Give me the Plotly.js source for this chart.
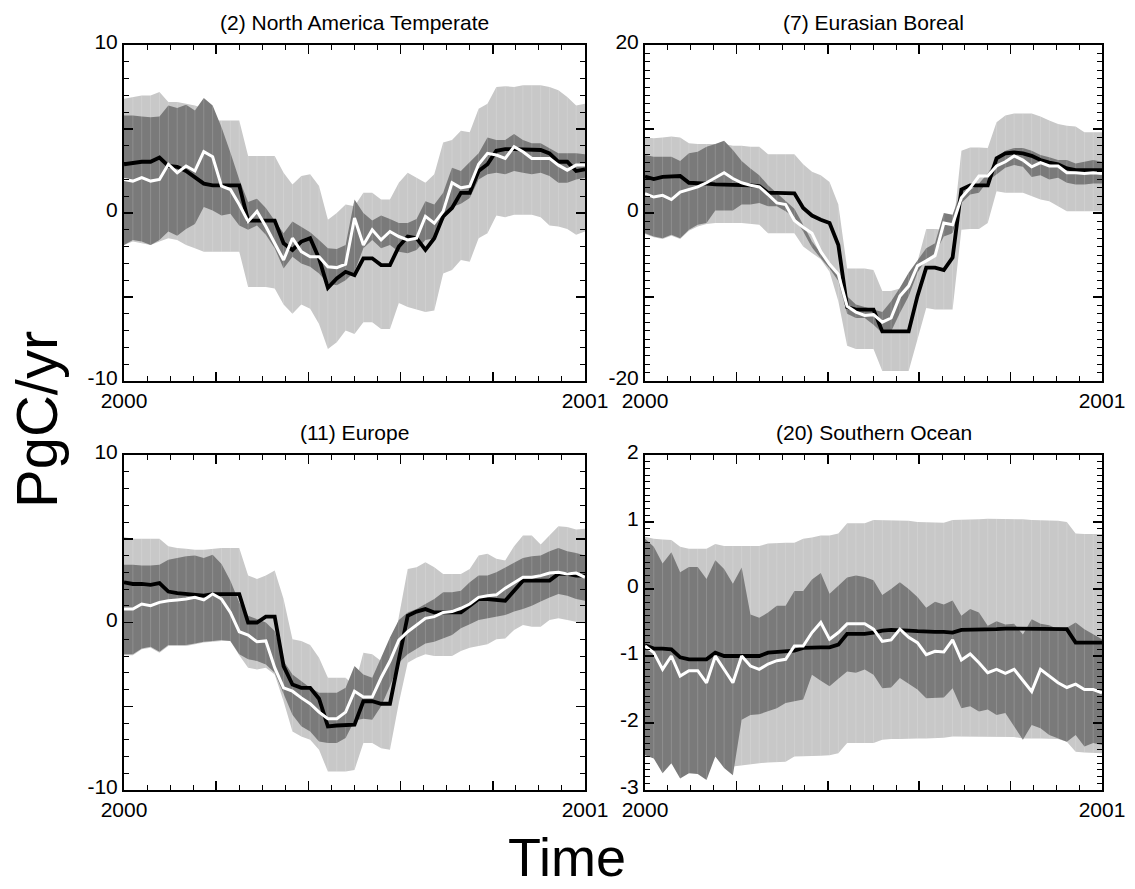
<!DOCTYPE html>
<html>
<head>
<meta charset="utf-8">
<script src="https://cdn.plot.ly/plotly-3.0.1.min.js"></script>
<style>html,body{margin:0;padding:0;background:#fff;}#chart{width:1135px;height:889px;}</style>
</head>
<body>
<div id="chart"></div>
<script>
// ---------- data (weekly values, 53 points over the year 2000) ----------
const titles = ["(2) North America Temperate", "(7) Eurasian Boreal", "(11) Europe", "(20) Southern Ocean"];
const xTickLabels = ["2000", "", "", "", "", "2001"];

// (2) North America Temperate
const naLightUp = [6.8,6.9,7.0,7.0,7.2,6.6,6.6,6.5,6.4,6.2,5.5,5.5,5.5,5.5,3.4,3.4,3.4,3.4,2.4,1.7,2.2,2.3,1.6,-0.4,0.0,0.5,0.4,1.2,1.2,0.8,0.8,1.8,2.4,2.1,1.8,2.3,4.2,4.35,4.9,4.8,6.2,6.5,7.5,7.55,7.5,7.6,7.6,7.6,7.5,7.3,6.9,6.4,6.5];
const naLightLo = [-1.9,-1.7,-1.8,-1.9,-1.7,-1.5,-1.6,-1.9,-2.1,-2.3,-2.3,-2.3,-2.3,-2.3,-4.4,-4.4,-4.4,-4.5,-5.45,-6.0,-5.45,-5.7,-6.6,-8.1,-7.7,-7.0,-7.2,-6.5,-6.5,-6.9,-6.9,-5.35,-5.6,-5.75,-5.9,-5.8,-3.6,-3.4,-2.8,-2.9,-1.5,-1.2,-0.15,-0.25,-0.1,-0.1,-0.1,-0.25,-0.75,-0.8,-0.95,-1.3,-1.1];
const naDarkUp = [5.8,5.8,5.75,5.7,5.75,6.4,6.25,6.45,6.1,6.85,6.4,5.1,3.6,2.0,0.65,0.85,0.3,-0.45,-1.2,-0.5,-0.85,-1.15,-1.6,-2.1,-2.15,-1.9,0.8,0.0,-0.45,-0.15,-0.35,-0.6,-0.6,-0.35,0.7,0.5,1.2,2.7,2.5,3.0,3.55,4.5,4.35,4.35,4.7,4.35,4.15,4.15,3.85,3.55,3.55,3.55,3.5];
const naDarkLo = [-1.9,-1.6,-1.7,-1.9,-1.6,-1.1,-1.35,-0.95,-0.65,0.35,0.15,-0.15,-0.05,-0.75,-1.0,-0.75,-1.3,-2.1,-3.3,-2.6,-3.0,-3.2,-3.6,-4.2,-4.3,-4.0,-3.5,-2.1,-1.6,-2.1,-1.9,-2.3,-2.4,-2.2,-1.6,-1.5,-0.45,0.35,0.55,0.9,2.0,2.3,2.4,2.3,2.5,2.4,2.3,2.4,2.2,1.8,1.8,2.0,2.1];
const naBlack = [2.9,3.0,3.05,3.05,3.3,2.8,2.75,2.5,2.15,1.75,1.65,1.65,1.65,1.65,-0.45,-0.45,-0.45,-0.45,-1.8,-2.2,-1.7,-1.5,-2.7,-4.45,-3.9,-3.5,-3.7,-2.7,-2.7,-3.1,-3.1,-2.0,-1.4,-1.5,-2.2,-1.5,-0.2,0.3,1.2,1.2,2.5,2.9,3.7,3.8,3.8,3.8,3.8,3.75,3.55,3.05,3.05,2.5,2.6];
const naWhite = [2.0,1.9,2.1,1.9,2.0,2.9,2.4,2.8,2.5,3.65,3.35,1.6,1.4,0.5,-0.5,0.1,-0.8,-1.8,-2.8,-1.5,-2.3,-2.6,-2.6,-3.2,-3.25,-3.05,-0.3,-1.9,-1.0,-1.6,-1.1,-1.4,-1.6,-1.5,-0.2,-0.6,0.1,1.8,1.5,1.6,2.9,3.55,3.45,3.25,3.95,3.65,3.25,3.25,3.25,2.85,2.55,2.85,2.85];

// (7) Eurasian Boreal
const ebLightUp = [9.0,8.9,9.0,9.1,9.0,8.3,8.2,8.2,8.2,8.2,8.0,8.0,7.9,7.9,7.0,7.0,7.0,7.0,5.8,4.9,4.5,3.7,1.0,-6.6,-6.6,-6.6,-6.8,-9.3,-9.3,-9.0,-8.5,-5.8,-1.9,-1.9,-2.0,-2.5,7.4,7.8,7.8,7.75,10.8,11.6,11.85,11.85,11.85,11.5,11.0,10.6,10.4,10.3,9.6,9.6,9.6];
const ebLightLo = [-2.5,-2.9,-3.1,-2.7,-3.1,-2.1,-1.6,-1.3,-1.2,-1.2,-1.2,-1.2,-1.3,-1.4,-2.4,-2.4,-2.4,-2.4,-4.0,-4.75,-5.5,-7.0,-10.5,-15.8,-16.2,-16.2,-16.2,-18.8,-18.8,-18.8,-18.8,-15.0,-11.3,-11.5,-11.5,-11.5,-2.0,-1.9,-1.9,-1.2,2.6,2.4,2.4,2.4,2.0,1.6,1.4,0.8,0.2,0.2,0.2,0.2,0.2];
const ebDarkUp = [6.9,6.7,6.7,6.7,6.2,7.1,7.3,7.9,8.2,8.6,7.5,6.2,5.3,4.5,3.3,2.4,1.5,0.5,-1.4,-3.4,-4.8,-6.0,-7.2,-9.9,-10.9,-11.2,-11.5,-11.8,-10.5,-8.9,-7.1,-5.6,-4.2,-3.6,0.0,-0.2,2.7,2.7,3.5,4.7,6.5,7.4,7.75,7.75,7.4,6.9,6.65,6.3,6.3,5.9,6.1,6.3,6.1];
const ebDarkLo = [-2.4,-2.8,-3.0,-2.6,-3.0,-2.0,-1.4,-1.2,0.3,0.3,0.3,1.0,1.0,1.2,0.8,0.8,0.2,-0.5,-2.2,-4.1,-5.4,-6.6,-8.1,-12.0,-12.5,-12.5,-13.3,-14.3,-14.1,-11.9,-9.9,-7.1,-5.5,-4.8,-2.8,-2.4,1.2,2.2,2.4,3.8,4.6,5.4,5.7,5.5,4.3,4.5,4.0,4.2,3.6,3.4,3.4,3.5,3.5];
const ebBlack = [4.35,4.05,4.3,4.4,4.4,3.6,3.6,3.5,3.4,3.4,3.35,3.3,3.3,3.2,2.4,2.4,2.4,2.35,0.6,-0.3,-0.8,-1.2,-3.8,-11.2,-11.5,-11.5,-11.5,-14.1,-14.1,-14.1,-14.1,-9.9,-6.5,-6.5,-6.8,-5.3,2.8,3.3,3.3,3.3,6.5,7.1,7.2,7.1,6.8,6.3,6.0,5.8,5.3,5.1,5.1,5.1,5.1];
const ebWhite = [2.3,1.9,2.1,1.6,2.5,2.8,3.1,3.6,4.2,4.8,4.1,3.6,3.3,3.1,2.2,1.2,1.0,-0.9,-1.7,-2.4,-4.6,-6.1,-7.3,-11.1,-11.8,-12.2,-12.1,-13.0,-12.5,-9.9,-8.7,-6.3,-5.7,-5.1,-1.2,-1.4,1.8,3.0,4.4,4.4,5.6,6.1,6.8,6.3,5.5,6.0,5.6,5.6,4.8,4.8,4.7,4.8,4.7];

// (11) Europe
const euLightUp = [5.1,5.0,5.0,5.0,5.0,4.55,4.45,4.4,4.35,4.35,4.4,4.45,4.45,4.45,2.8,2.6,2.8,3.1,1.4,-1.0,-1.1,-1.35,-2.1,-3.3,-3.3,-3.3,-3.8,-1.8,-1.9,-2.3,-2.5,0.4,3.2,3.3,3.6,3.3,2.9,2.9,2.9,3.2,4.0,4.1,3.8,3.7,4.55,5.2,5.2,4.65,5.2,5.75,5.7,5.55,5.6];
const euLightLo = [-1.95,-1.95,-1.6,-1.5,-1.8,-1.4,-1.4,-1.4,-1.3,-1.2,-1.15,-1.1,-1.1,-1.95,-2.7,-2.8,-2.7,-3.1,-4.7,-6.5,-6.8,-7.0,-7.6,-8.9,-8.9,-8.9,-8.8,-7.2,-7.2,-7.5,-7.6,-4.8,-2.4,-2.1,-1.9,-2.0,-2.0,-2.0,-1.7,-1.5,-1.4,-1.3,-1.0,-0.95,-0.45,-0.15,-0.25,-0.25,0.15,0.25,0.15,0.05,-0.05];
const euDarkUp = [3.45,3.45,3.4,3.4,3.45,3.75,3.85,3.95,4.0,3.85,4.05,3.5,2.5,1.2,0.4,0.2,0.0,-0.5,-2.3,-3.1,-3.5,-3.9,-4.2,-4.2,-4.2,-3.9,-2.6,-3.1,-3.3,-2.1,-0.9,0.15,0.6,0.8,1.1,1.4,1.8,1.8,1.9,2.4,2.8,2.8,3.0,3.3,3.6,3.85,3.95,4.0,4.25,4.45,4.25,4.15,4.0];
const euDarkLo = [-1.9,-1.9,-1.55,-1.45,-1.75,-1.35,-1.35,-1.35,-1.25,-1.15,-1.1,-1.05,-1.1,-1.9,-2.2,-2.3,-2.5,-3.0,-4.2,-5.5,-6.2,-6.5,-7.1,-7.2,-7.2,-6.9,-5.85,-5.75,-5.8,-5.0,-3.8,-2.4,-1.9,-1.6,-1.25,-1.15,-0.95,-0.75,-0.35,-0.1,0.15,0.25,0.35,0.45,0.65,0.8,1.0,1.25,1.5,1.7,1.6,1.4,1.3];
const euBlack = [2.4,2.3,2.3,2.25,2.35,1.85,1.75,1.7,1.65,1.6,1.7,1.7,1.7,1.7,0.0,0.0,0.35,0.35,-2.6,-3.7,-3.9,-3.9,-4.55,-6.2,-6.15,-6.1,-6.1,-4.7,-4.7,-4.85,-4.85,-2.2,0.4,0.65,0.8,0.6,0.6,0.65,0.6,1.0,1.4,1.4,1.35,1.3,1.9,2.5,2.5,2.5,2.5,2.9,2.9,2.8,2.8];
const euWhite = [0.8,0.8,1.1,1.0,1.2,1.3,1.35,1.4,1.5,1.35,1.7,1.4,0.6,-0.55,-0.75,-1.15,-1.1,-2.7,-3.9,-4.1,-4.5,-4.85,-5.35,-5.75,-5.75,-5.35,-4.1,-4.45,-4.45,-3.3,-2.3,-1.05,-0.55,-0.15,0.25,0.35,0.6,0.65,0.85,1.1,1.5,1.6,1.65,2.05,2.4,2.7,2.7,2.8,2.95,3.0,2.9,2.95,2.7];

// (20) Southern Ocean
const soLightUp = [0.78,0.75,0.74,0.73,0.63,0.6,0.6,0.6,0.67,0.64,0.64,0.64,0.64,0.64,0.68,0.69,0.69,0.69,0.75,0.77,0.8,0.8,0.83,0.98,0.98,0.98,1.03,1.03,1.03,1.03,1.02,1.0,1.0,1.0,0.99,1.03,1.03,1.03,1.04,1.05,1.05,1.05,1.05,1.04,1.03,1.03,1.03,1.02,1.0,0.83,0.82,0.82,0.82];
const soLightLo = [-2.45,-2.5,-2.6,-2.55,-2.6,-2.6,-2.6,-2.6,-2.48,-2.6,-2.65,-2.63,-2.62,-2.6,-2.59,-2.58,-2.58,-2.5,-2.49,-2.49,-2.49,-2.48,-2.45,-2.3,-2.3,-2.3,-2.3,-2.25,-2.24,-2.24,-2.24,-2.23,-2.23,-2.23,-2.22,-2.2,-2.2,-2.2,-2.2,-2.2,-2.2,-2.21,-2.21,-2.23,-2.23,-2.23,-2.23,-2.24,-2.28,-2.43,-2.44,-2.45,-2.45];
const soDarkUp = [0.75,0.63,0.38,0.55,0.25,0.33,0.33,0.15,0.43,0.3,0.08,0.32,-0.38,-0.43,-0.35,-0.25,-0.25,-0.03,-0.03,0.14,0.24,-0.07,0.05,0.17,0.2,0.18,0.13,-0.09,0.0,0.1,0.0,-0.12,-0.28,-0.19,-0.23,-0.17,-0.4,-0.3,-0.35,-0.55,-0.48,-0.53,-0.52,-0.68,-0.45,-0.52,-0.54,-0.6,-0.58,-0.5,-0.6,-0.67,-0.75];
const soDarkLo = [-2.48,-2.53,-2.75,-2.6,-2.83,-2.75,-2.76,-2.85,-2.5,-2.67,-2.78,-1.95,-1.88,-1.87,-1.83,-1.78,-1.7,-1.67,-1.65,-1.28,-1.37,-1.45,-1.34,-1.23,-1.25,-1.2,-1.28,-1.48,-1.47,-1.33,-1.42,-1.5,-1.63,-1.63,-1.62,-1.48,-1.78,-1.75,-1.83,-1.8,-1.88,-1.85,-2.05,-2.25,-2.03,-2.08,-2.18,-2.23,-2.28,-2.18,-2.35,-2.3,-2.33];
const soBlack = [-0.84,-0.89,-0.89,-0.9,-1.02,-1.05,-1.05,-1.05,-0.95,-1.0,-1.0,-1.0,-1.0,-1.0,-0.95,-0.94,-0.94,-0.92,-0.88,-0.87,-0.87,-0.87,-0.83,-0.67,-0.67,-0.67,-0.65,-0.62,-0.61,-0.61,-0.62,-0.63,-0.64,-0.64,-0.64,-0.65,-0.61,-0.61,-0.61,-0.61,-0.6,-0.59,-0.59,-0.6,-0.6,-0.6,-0.6,-0.6,-0.6,-0.8,-0.8,-0.8,-0.8];
const soWhite = [-0.85,-0.95,-1.2,-1.0,-1.3,-1.22,-1.22,-1.4,-1.0,-1.2,-1.4,-1.0,-1.15,-1.2,-1.12,-1.07,-1.05,-0.85,-0.85,-0.65,-0.5,-0.75,-0.65,-0.52,-0.52,-0.52,-0.6,-0.78,-0.76,-0.6,-0.72,-0.8,-0.98,-0.93,-0.94,-0.76,-1.06,-0.97,-1.1,-1.25,-1.2,-1.26,-1.2,-1.37,-1.53,-1.2,-1.3,-1.4,-1.47,-1.42,-1.5,-1.5,-1.55];

// y axis setups (range, major tick values, labels, minor step)
const yRanges = [[-10,10],[-20,20],[-10,10],[-3,2]];
const yTickVals = [[-10,-5,0,5,10],[-20,-10,0,10,20],[-10,-5,0,5,10],[-3,-2,-1,0,1,2]];
const yTickText = [["-10","","0","","10"],["-20","","0","","20"],["-10","","0","","10"],["-3","-2","-1","0","1","2"]];
const yMinor = [1,1,1,0.1];

// ---------- drawing ----------
const FONT = "Liberation Sans, Arial, Helvetica, sans-serif";
const LIGHT = "rgb(200,200,200)", DARK = "rgb(122,122,122)";
const nPts = naBlack.length;
const xs = [];
for (let i = 0; i < nPts; i++) xs.push(i / (nPts - 1));

const panels = [
  [naLightUp, naLightLo, naDarkUp, naDarkLo, naBlack, naWhite],
  [ebLightUp, ebLightLo, ebDarkUp, ebDarkLo, ebBlack, ebWhite],
  [euLightUp, euLightLo, euDarkUp, euDarkLo, euBlack, euWhite],
  [soLightUp, soLightLo, soDarkUp, soDarkLo, soBlack, soWhite]
];

const W = 1135, H = 889;
const xDom = [[124/W, 585/W], [645/W, 1102/W]];
const yDom = [[1-381/H, 1-45/H], [1-790/H, 1-455/H]];

const traces = [];
const layout = {
  width: W, height: H,
  margin: {l:0, r:0, t:0, b:0},
  paper_bgcolor: "#fff", plot_bgcolor: "#fff",
  showlegend: false,
  font: {family: FONT, size: 21, color: "#000"},
  annotations: []
};

function band(up, lo, xa, ya, color) {
  return {
    x: xs.concat(xs.slice().reverse()),
    y: up.concat(lo.slice().reverse()),
    xaxis: xa, yaxis: ya,
    type: "scatter", mode: "lines", fill: "toself",
    fillcolor: color, line: {width: 0, color: color},
    hoverinfo: "skip"
  };
}

panels.forEach((p, k) => {
  const [lu, ll, du, dl, bl, wh] = p;
  const sfx = k === 0 ? "" : String(k + 1);
  const xa = "x" + sfx, ya = "y" + sfx;
  traces.push(band(lu, ll, xa, ya, LIGHT));
  traces.push(band(du, dl, xa, ya, DARK));
  // faint vertical seams between weekly segments
  const sx = [], sy = [];
  for (let i = 1; i < nPts - 1; i++) {
    sx.push(xs[i], xs[i], null);
    sy.push(Math.min(ll[i], dl[i]), Math.max(lu[i], du[i]), null);
  }
  traces.push({x: sx, y: sy, xaxis: xa, yaxis: ya, type: "scatter", mode: "lines",
    line: {color: "rgba(255,255,255,0.16)", width: 1}, hoverinfo: "skip", connectgaps: false});
  traces.push({x: xs, y: bl, xaxis: xa, yaxis: ya, type: "scatter", mode: "lines",
    line: {color: "#000", width: 3.8}, hoverinfo: "skip"});
  traces.push({x: xs, y: wh, xaxis: xa, yaxis: ya, type: "scatter", mode: "lines",
    line: {color: "#fff", width: 3}, hoverinfo: "skip"});

  const col = k % 2, row = Math.floor(k / 2);
  layout["xaxis" + sfx] = {
    domain: xDom[col], anchor: ya, range: [0, 1], fixedrange: true,
    showline: true, linewidth: 2, linecolor: "#000", mirror: "allticks",
    ticks: "inside", ticklen: 9, tickwidth: 1.5, tickcolor: "#000",
    tickmode: "array", tickvals: [0, 0.2, 0.4, 0.6, 0.8, 1], ticktext: xTickLabels,
    minor: {tickmode: "linear", tick0: 0, dtick: 0.05, ticks: "inside", ticklen: 5, tickwidth: 1, tickcolor: "#000", showgrid: false},
    showgrid: false, zeroline: false,
    tickfont: {family: FONT, size: 21, color: "#000"}
  };
  layout["yaxis" + sfx] = {
    domain: yDom[row], anchor: xa, range: yRanges[k], fixedrange: true,
    showline: true, linewidth: 2, linecolor: "#000", mirror: "allticks",
    ticks: "inside", ticklen: 9, tickwidth: 1.5, tickcolor: "#000",
    tickmode: "array", tickvals: yTickVals[k], ticktext: yTickText[k],
    ticklabelshift: -3,
    minor: {tickmode: "linear", tick0: 0, dtick: yMinor[k], ticks: "inside", ticklen: 5, tickwidth: 1, tickcolor: "#000", showgrid: false},
    showgrid: false, zeroline: false,
    tickfont: {family: FONT, size: 21, color: "#000"}
  };
  layout.annotations.push({
    text: titles[k], xref: "paper", yref: "paper",
    x: (xDom[col][0] + xDom[col][1]) / 2,
    y: row === 0 ? 1 - 22/H : 1 - 432/H,
    xanchor: "center", yanchor: "middle", showarrow: false,
    font: {family: FONT, size: 21, color: "#000"}
  });
});

layout.annotations.push({
  text: "Time", xref: "paper", yref: "paper", x: 567/W, y: 0,
  xanchor: "center", yanchor: "bottom", showarrow: false,
  font: {family: FONT, size: 54, color: "#000"}
});
layout.annotations.push({
  text: "PgC/yr", xref: "paper", yref: "paper", x: 36/W, y: 1 - 420/H,
  xanchor: "center", yanchor: "middle", showarrow: false, textangle: -90,
  font: {family: FONT, size: 58, color: "#000"}
});

Plotly.newPlot("chart", traces, layout, {staticPlot: true, displayModeBar: false});
</script>
</body>
</html>
